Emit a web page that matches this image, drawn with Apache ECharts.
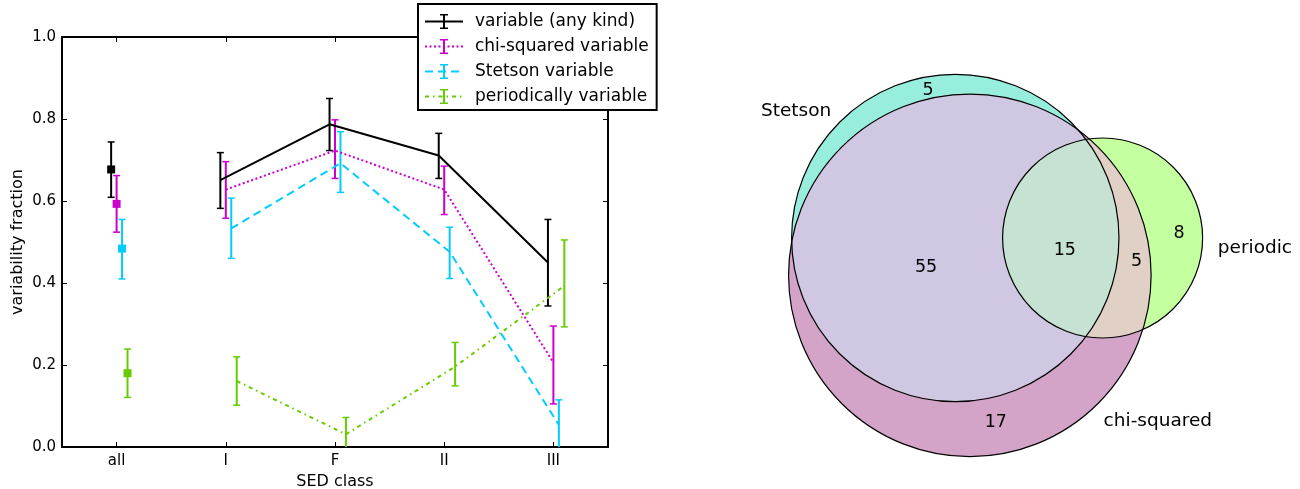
<!DOCTYPE html>
<html><head><meta charset="utf-8">
<script src="https://cdn.jsdelivr.net/npm/echarts@6/dist/echarts.min.js"></script>
<style>html,body{margin:0;padding:0;background:#fff}#c{width:1300px;height:489px}</style>
</head><body><div id="c"></div>
<script>
// ---------------- data: left panel ----------------
const CATEGORIES = ['all', 'I', 'F', 'II', 'III'];
const SERIES_NAMES = ['variable (any kind)', 'chi-squared variable', 'Stetson variable', 'periodically variable'];
const ANY_VALUE  = [0.677, 0.651, 0.787, 0.711, 0.450];
const ANY_LOW    = [0.609, 0.582, 0.723, 0.655, 0.344];
const ANY_HIGH   = [0.744, 0.718, 0.850, 0.765, 0.555];
const CHI_VALUE  = [0.593, 0.628, 0.723, 0.628, 0.206];
const CHI_LOW    = [0.524, 0.558, 0.655, 0.567, 0.105];
const CHI_HIGH   = [0.662, 0.696, 0.798, 0.685, 0.295];
const STET_VALUE = [0.484, 0.533, 0.692, 0.476, 0.054];
const STET_LOW   = [0.410, 0.460, 0.621, 0.411, -0.007];
const STET_HIGH  = [0.555, 0.607, 0.769, 0.536, 0.115];
const PER_VALUE  = [0.180, 0.161, 0.031, 0.196, 0.393];
const PER_LOW    = [0.121, 0.102, -0.010, 0.149, 0.293];
const PER_HIGH   = [0.239, 0.220, 0.072, 0.255, 0.505];
const X_TITLE = 'SED class';
const Y_TITLE = 'variability fraction';

// ---------------- data: right panel (Venn) ----------------
const VENN_SETS = ['Stetson', 'periodic', 'chi-squared'];
// region membership keys (Stetson, periodic, chi-squared)
const VENN_REGION_KEYS   = ['100', '010', '110', '001', '101', '011', '111'];
const VENN_REGION_COUNTS = [5, 8, 0, 17, 55, 5, 15];

// ---------------- styles / layout ----------------
const COLORS = ['#000000', '#cc00cc', '#00ccff', '#66cc00'];
const DASHES = ['solid', [2, 2.5], [8, 5], [4, 4, 1.5, 4]];
const DODGE = [-0.05, 0, 0.05, 0.1];
const REGION_COLORS = {'100': '#98eedc', '010': '#c4ffa0', '001': '#d4a4c8', '101': '#d0c7e3',
                       '011': '#e1d0c6', '111': '#c6e2d2', '110': '#c6e2d2'};
const FONT = 'DejaVu Sans';
const VENN_GRID = {left: 740, top: 40, width: 520, height: 420};
const VENN_PX_PER_UNIT = 18.9;
const VENN_ORIGIN_PX = [955.3, 238];
const SET_LABEL_OFFSETS = [[-0.973, 0.776], [1.523, -0.103], [1.037, -0.805]];
// pixel nudges of the region count labels from their computed anchor
const REGION_LABEL_NUDGE = {'100': [21, -3], '010': [18, 12], '001': [26, -6], '101': [-4, 18], '011': [11, -3], '111': [1, 12]};

const VALUES = [ANY_VALUE, CHI_VALUE, STET_VALUE, PER_VALUE];
const LOWS = [ANY_LOW, CHI_LOW, STET_LOW, PER_LOW];
const HIGHS = [ANY_HIGH, CHI_HIGH, STET_HIGH, PER_HIGH];

// ---------------- Venn geometry (area-proportional, from counts) ----------------
function lensArea(r1, r2, d) {
  if (d >= r1 + r2) return 0;
  if (d <= Math.abs(r1 - r2)) return Math.PI * Math.min(r1, r2) ** 2;
  const a1 = Math.acos((d * d + r1 * r1 - r2 * r2) / (2 * d * r1));
  const a2 = Math.acos((d * d + r2 * r2 - r1 * r1) / (2 * d * r2));
  return r1 * r1 * a1 + r2 * r2 * a2 - 0.5 * Math.sqrt((-d + r1 + r2) * (d + r1 - r2) * (d - r1 + r2) * (d + r1 + r2));
}
function solveDist(r1, r2, target) {
  let lo = Math.abs(r1 - r2), hi = r1 + r2;
  for (let k = 0; k < 200; k++) { const m = (lo + hi) / 2; if (lensArea(r1, r2, m) > target) lo = m; else hi = m; }
  return (lo + hi) / 2;
}
function setSize(i) { let s = 0; VENN_REGION_KEYS.forEach((k, j) => { if (k[i] === '1') s += VENN_REGION_COUNTS[j]; }); return s; }
function pairSize(i, j) { let s = 0; VENN_REGION_KEYS.forEach((k, q) => { if (k[i] === '1' && k[j] === '1') s += VENN_REGION_COUNTS[q]; }); return s; }
const R = [0, 1, 2].map(i => Math.sqrt(setSize(i)));
const dAB = solveDist(R[0], R[1], Math.PI * pairSize(0, 1));
const dAC = solveDist(R[0], R[2], Math.PI * pairSize(0, 2));
const dBC = solveDist(R[1], R[2], Math.PI * pairSize(1, 2));
const cosA = (dAB * dAB + dAC * dAC - dBC * dBC) / (2 * dAB * dAC);
const CENTERS = [[0, 0], [dAB, 0], [dAC * cosA, -dAC * Math.sqrt(1 - cosA * cosA)]];

function circleInter(c1, r1, c2, r2) {
  const dx = c2[0] - c1[0], dy = c2[1] - c1[1], d = Math.hypot(dx, dy);
  const a = (d * d + r1 * r1 - r2 * r2) / (2 * d), h = Math.sqrt(Math.max(0, r1 * r1 - a * a));
  const px = c1[0] + a * dx / d, py = c1[1] + a * dy / d;
  return [[px - h * dy / d, py + h * dx / d], [px + h * dy / d, py - h * dx / d]];
}
function lensPoints(i, j) {
  const pts = [], N = 1440;
  [[i, j], [j, i]].forEach(([p, q]) => {
    for (let k = 0; k < N; k++) {
      const t = 2 * Math.PI * k / N;
      const x = CENTERS[p][0] + R[p] * Math.cos(t), y = CENTERS[p][1] + R[p] * Math.sin(t);
      if (Math.hypot(x - CENTERS[q][0], y - CENTERS[q][1]) <= R[q]) pts.push([x, y]);
    }
  });
  circleInter(CENTERS[i], R[i], CENTERS[j], R[j]).forEach(p => pts.push(p));
  const mx = pts.reduce((s, p) => s + p[0], 0) / pts.length, my = pts.reduce((s, p) => s + p[1], 0) / pts.length;
  pts.sort((a, b) => Math.atan2(a[1] - my, a[0] - mx) - Math.atan2(b[1] - my, b[0] - mx));
  return pts;
}
// paint order: A, C, A∩C, B, B∩C, A∩B
const PAINT = [
  {type: 'circle', set: 0, key: '100'},
  {type: 'circle', set: 2, key: '001'},
  {type: 'lens', pts: lensPoints(0, 2), key: '101'},
  {type: 'circle', set: 1, key: '010'},
  {type: 'lens', pts: lensPoints(1, 2), key: '011'},
  {type: 'lens', pts: lensPoints(0, 1), key: '111'}
];

// region label anchors: area centroid, or mid of vertical chord if centroid falls outside
function sig(x, y) { return CENTERS.map((c, i) => (Math.hypot(x - c[0], y - c[1]) <= R[i]) ? '1' : '0').join(''); }
const bx0 = Math.min(...CENTERS.map((c, i) => c[0] - R[i])), bx1 = Math.max(...CENTERS.map((c, i) => c[0] + R[i]));
const by0 = Math.min(...CENTERS.map((c, i) => c[1] - R[i])), by1 = Math.max(...CENTERS.map((c, i) => c[1] + R[i]));
const acc = {};
const STEP = 0.04;
for (let x = bx0; x <= bx1; x += STEP) for (let y = by0; y <= by1; y += STEP) {
  const k = sig(x, y); if (k === '000') continue;
  if (!acc[k]) acc[k] = {n: 0, sx: 0, sy: 0};
  acc[k].n++; acc[k].sx += x; acc[k].sy += y;
}
const REGION_LABELS = [];
VENN_REGION_KEYS.forEach((k, j) => {
  const a = acc[k];
  if (!a || a.n * STEP * STEP < 0.3) return;
  let cx = a.sx / a.n, cy = a.sy / a.n;
  if (sig(cx, cy) !== k) {
    const segs = []; let start = null;
    for (let y = by0; y <= by1; y += 0.01) {
      const inside = sig(cx, y) === k;
      if (inside && start === null) start = y;
      if (!inside && start !== null) { segs.push([start, y]); start = null; }
    }
    if (start !== null) segs.push([start, by1]);
    segs.sort((s1, s2) => Math.abs((s1[0] + s1[1]) / 2 - cy) - Math.abs((s2[0] + s2[1]) / 2 - cy));
    if (segs.length) cy = (segs[0][0] + segs[0][1]) / 2;
  }
  REGION_LABELS.push({pos: [cx, cy], text: String(VENN_REGION_COUNTS[j]), nudge: REGION_LABEL_NUDGE[k] || [0, 0]});
});
const SET_LABELS = VENN_SETS.map((name, i) => ({
  pos: [CENTERS[i][0] + SET_LABEL_OFFSETS[i][0] * R[i], CENTERS[i][1] + SET_LABEL_OFFSETS[i][1] * R[i]], text: name, nudge: [0, 0]
}));

// ---------------- options ----------------
const ERRBAR_ICON = 'path://M0,0L0.01,0L0,0.01Z M16,16L15.99,16L16,15.99Z M7,0.5L9,0.5L9,15.5L7,15.5Z M4,0.5L12,0.5L12,2L4,2Z M4,14L12,14L12,15.5L4,15.5Z';
const axisCommon = {
  axisLine: {show: true, onZero: false, lineStyle: {color: '#000', width: 2}},
  axisTick: {show: true, inside: true, length: 5, lineStyle: {color: '#000', width: 1}},
  splitLine: {show: false}
};

const series = [];
SERIES_NAMES.forEach((name, s) => {
  series.push({
    type: 'line', name, xAxisIndex: 2, yAxisIndex: 0, silent: true, animation: false,
    data: CATEGORIES.map((c, i) => [i + DODGE[s], VALUES[s][i]]).slice(1),
    symbol: ERRBAR_ICON, showSymbol: false, z: 2,
    lineStyle: {color: COLORS[s], width: 2, type: DASHES[s]},
    itemStyle: {color: COLORS[s]}
  });
  series.push({
    type: 'custom', name, xAxisIndex: 2, yAxisIndex: 0, silent: true, animation: false, clip: true, z: 2,
    itemStyle: {color: COLORS[s]},
    data: CATEGORIES.map((c, i) => [i + DODGE[s], VALUES[s][i], LOWS[s][i], HIGHS[s][i]]),
    renderItem(params, api) {
      const x = api.value(0);
      const p = api.coord([x, api.value(1)]);
      const pl = api.coord([x, api.value(2)]);
      const ph = api.coord([x, api.value(3)]);
      const cw = 3.5;
      const st = {stroke: COLORS[s], lineWidth: 2};
      const children = [
        {type: 'line', shape: {x1: pl[0], y1: pl[1], x2: ph[0], y2: ph[1]}, style: st},
        {type: 'line', shape: {x1: ph[0] - cw, y1: ph[1], x2: ph[0] + cw, y2: ph[1]}, style: {stroke: COLORS[s], lineWidth: 1.5}},
        {type: 'line', shape: {x1: pl[0] - cw, y1: pl[1], x2: pl[0] + cw, y2: pl[1]}, style: {stroke: COLORS[s], lineWidth: 1.5}}
      ];
      if (params.dataIndex === 0) {
        children.push({type: 'rect', shape: {x: p[0] - 4, y: p[1] - 4, width: 8, height: 8}, style: {fill: COLORS[s]}});
      }
      return {type: 'group', children};
    }
  });
});

// Venn fills
series.push({
  type: 'custom', xAxisIndex: 3, yAxisIndex: 2, silent: true, animation: false, z: 1,
  data: PAINT.map((p, i) => [0, 0, i]),
  renderItem(params, api) {
    const p = PAINT[params.dataIndex];
    const fill = REGION_COLORS[p.key];
    if (p.type === 'circle') {
      const c = api.coord(CENTERS[p.set]);
      const r = api.size([R[p.set], 0])[0];
      return {type: 'circle', shape: {cx: c[0], cy: c[1], r}, style: {fill}};
    }
    return {type: 'polygon', shape: {points: p.pts.map(q => api.coord(q))}, style: {fill}};
  }
});
// Venn outlines
series.push({
  type: 'custom', xAxisIndex: 3, yAxisIndex: 2, silent: true, animation: false, z: 3,
  data: CENTERS.map((c, i) => [c[0], c[1], i]),
  renderItem(params, api) {
    const i = params.dataIndex;
    const c = api.coord(CENTERS[i]);
    const r = api.size([R[i], 0])[0];
    return {type: 'circle', shape: {cx: c[0], cy: c[1], r}, style: {fill: 'none', stroke: '#000', lineWidth: 1.2}};
  }
});
// Venn texts
const VENN_TEXTS = REGION_LABELS.map(l => Object.assign({size: 17.5}, l)).concat(SET_LABELS.map(l => Object.assign({size: 18.5}, l)));
series.push({
  type: 'custom', xAxisIndex: 3, yAxisIndex: 2, silent: true, animation: false, z: 4,
  data: VENN_TEXTS.map(t => [t.pos[0], t.pos[1]]),
  renderItem(params, api) {
    const t = VENN_TEXTS[params.dataIndex];
    const c = api.coord(t.pos);
    return {type: 'text', x: c[0] + t.nudge[0], y: c[1] + t.nudge[1],
      style: {text: t.text, fontSize: t.size, fontFamily: FONT, fill: '#000', align: 'center', verticalAlign: 'middle'}};
  }
});

const vx0 = (VENN_GRID.left - VENN_ORIGIN_PX[0]) / VENN_PX_PER_UNIT;
const vx1 = (VENN_GRID.left + VENN_GRID.width - VENN_ORIGIN_PX[0]) / VENN_PX_PER_UNIT;
const vy1 = (VENN_ORIGIN_PX[1] - VENN_GRID.top) / VENN_PX_PER_UNIT;
const vy0 = (VENN_ORIGIN_PX[1] - VENN_GRID.top - VENN_GRID.height) / VENN_PX_PER_UNIT;

const option = {
  backgroundColor: '#fff',
  animation: false,
  textStyle: {fontFamily: FONT, color: '#000'},
  grid: [
    {left: 62, top: 37, width: 546, height: 410, outerBoundsMode: 'none', containLabel: false},
    Object.assign({outerBoundsMode: 'none', containLabel: false}, VENN_GRID)
  ],
  legend: {
    data: SERIES_NAMES, orient: 'vertical', left: 418, top: 4,
    itemWidth: 38, itemHeight: 20, itemGap: 8,
    padding: [9, 8, 5, 6], borderColor: '#000', borderWidth: 2, borderRadius: 0, backgroundColor: '#fff',
    textStyle: {fontFamily: FONT, fontSize: 17, color: '#000', padding: [0, 0, 0, 7]},
    selectedMode: false, z: 10
  },
  xAxis: [
    Object.assign({type: 'category', gridIndex: 0, position: 'bottom', data: CATEGORIES, boundaryGap: true,
      name: X_TITLE, nameLocation: 'middle', nameGap: 26,
      nameTextStyle: {fontFamily: FONT, fontSize: 16, color: '#000'},
      axisLabel: {fontFamily: FONT, fontSize: 15, color: '#000', margin: 7}}, axisCommon,
      {axisTick: Object.assign({alignWithLabel: true}, axisCommon.axisTick)}),
    Object.assign({type: 'category', gridIndex: 0, position: 'top', data: CATEGORIES, boundaryGap: true,
      axisLabel: {show: false}}, axisCommon,
      {axisTick: Object.assign({alignWithLabel: true}, axisCommon.axisTick)}),
    {type: 'value', gridIndex: 0, min: -0.5, max: 4.5, show: false},
    {type: 'value', gridIndex: 1, min: vx0, max: vx1, show: false}
  ],
  yAxis: [
    Object.assign({type: 'value', gridIndex: 0, position: 'left', min: 0, max: 1, interval: 0.2,
      name: Y_TITLE, nameLocation: 'middle', nameGap: 36, nameRotate: 90,
      nameTextStyle: {fontFamily: FONT, fontSize: 16, color: '#000'},
      axisLabel: {fontFamily: FONT, fontSize: 15, color: '#000', margin: 6, formatter: v => v.toFixed(1)}}, axisCommon),
    Object.assign({type: 'value', gridIndex: 0, position: 'right', min: 0, max: 1, interval: 0.2,
      axisLabel: {show: false}}, axisCommon),
    {type: 'value', gridIndex: 1, min: vy0, max: vy1, show: false}
  ],
  series
};
const chart = echarts.init(document.getElementById('c'));
chart.setOption(option);
</script></body></html>
